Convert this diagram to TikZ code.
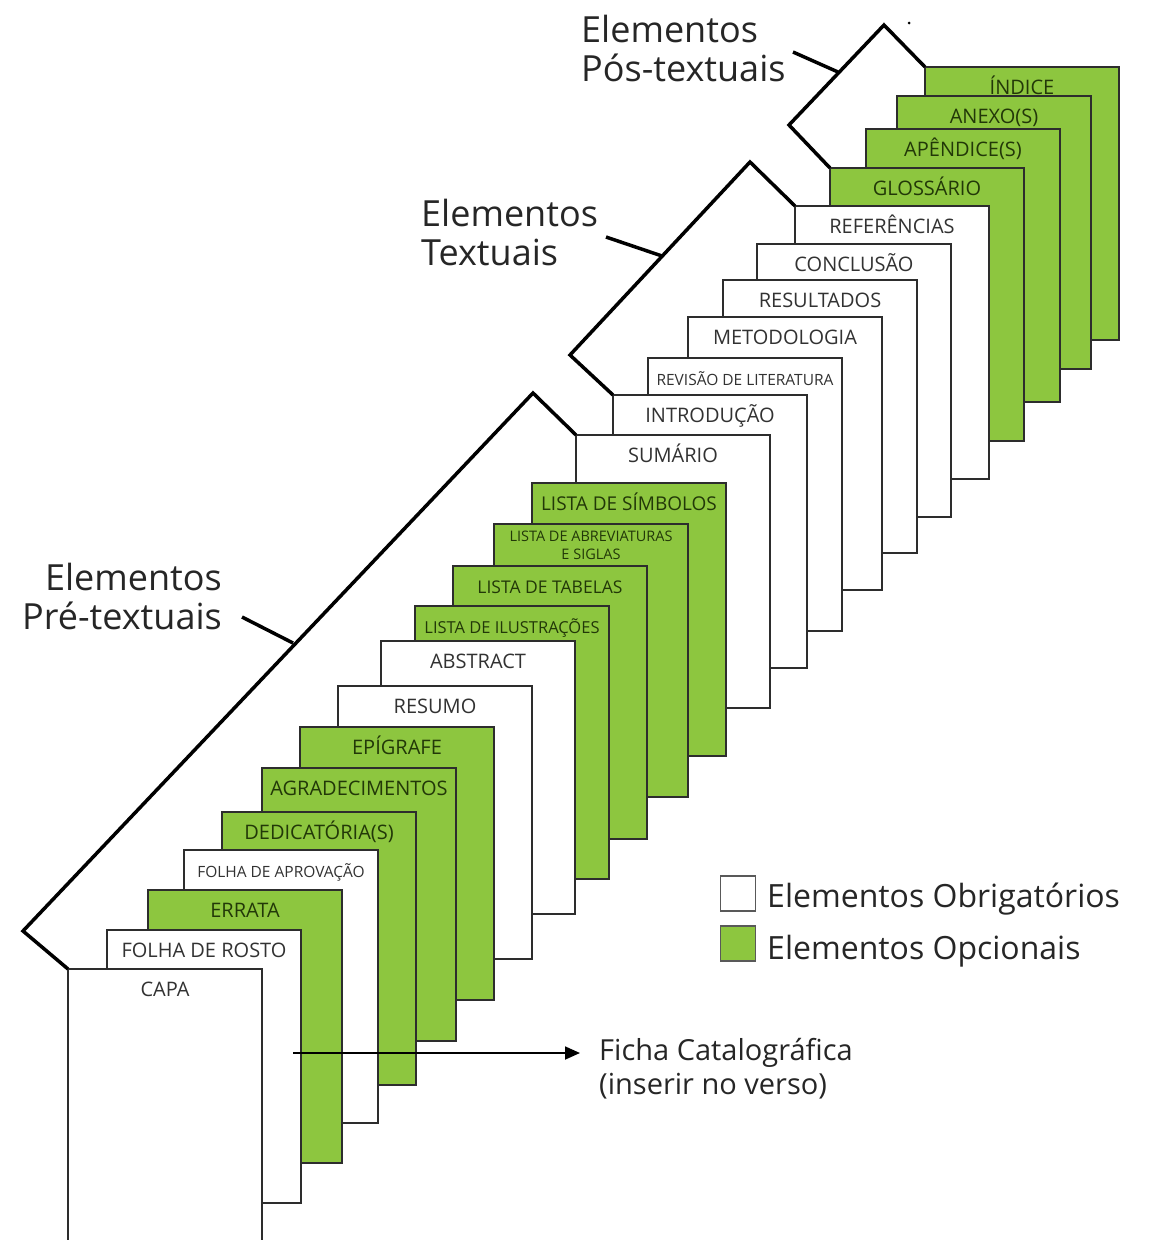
\documentclass[tikz,border=0pt]{standalone}
\usepackage{fontspec}
\setmainfont{Open Sans}
\usetikzlibrary{arrows.meta}

\definecolor{verdeopc}{RGB}{141,198,63}
\definecolor{bordafolha}{RGB}{45,45,45}
\definecolor{textobranco}{RGB}{50,50,50}
\definecolor{textoverde}{RGB}{34,56,8}

\tikzset{
    folha/.style={draw=bordafolha, line width=1.6pt, anchor=north west, inner sep=0pt, outer sep=0pt, minimum width=194pt, minimum height=273pt},
    obrig/.style={folha, fill=white},
    opc/.style={folha, fill=verdeopc},
    rot/.style={anchor=base, inner sep=0pt, font=\fontsize{20}{22}\selectfont},
    rb/.style={rot, text=textobranco},
    rv/.style={rot, text=textoverde},
    rbp/.style={rb, font=\fontsize{15.5}{18}\selectfont},
    rvp/.style={rv, font=\fontsize{16.5}{18}\selectfont},
    rvt/.style={rv, font=\fontsize{17.5}{20}\selectfont},
    rvs/.style={rv, font=\fontsize{19}{22}\selectfont},
    rvd/.style={rv, font=\fontsize{14.5}{18}\selectfont, align=center, yshift=-8pt},
    chave/.style={line width=3.5pt, black},
    grupo/.style={inner sep=0pt, font=\fontsize{36}{39}\selectfont, text=black!85},
    legenda/.style={draw=black!65, line width=1.4pt, minimum size=35pt, inner sep=0pt},
    legtexto/.style={anchor=base west, inner sep=0pt, font=\fontsize{32}{34}\selectfont, text=black!85},
    seta/.style={line width=1.8pt, -{Triangle[length=15pt,width=13pt]}}
}

\begin{document}
\begin{tikzpicture}[x=1pt, y=-1pt]
    \useasboundingbox (0,0) rectangle (1150,1240);
    \clip (0,0) rectangle (1150,1240);

    % folhas, da ultima (atras) para a capa (frente)
    \foreach \px/\py/\tipo/\rs/\txt [count=\i] in {
        925/67/opc/rv/ÍNDICE,
        897/96/opc/rv/ANEXO(S),
        866/129/opc/rv/APÊNDICE(S),
        830/168/opc/rv/GLOSSÁRIO,
        795/206/obrig/rb/REFERÊNCIAS,
        757/244/obrig/rb/CONCLUSÃO,
        723/280/obrig/rb/RESULTADOS,
        688/317/obrig/rb/METODOLOGIA,
        648/358/obrig/rbp/REVISÃO DE LITERATURA,
        613/395/obrig/rb/INTRODUÇÃO,
        576/435/obrig/rb/SUMÁRIO,
        532/483/opc/rvs/LISTA DE SÍMBOLOS,
        494/524/opc/rvd/LISTA DE ABREVIATURAS\\E SIGLAS,
        453/566/opc/rvt/LISTA DE TABELAS,
        415/606/opc/rvp/LISTA DE ILUSTRAÇÕES,
        381/641/obrig/rb/ABSTRACT,
        338/686/obrig/rb/RESUMO,
        300/727/opc/rv/EPÍGRAFE,
        262/768/opc/rv/AGRADECIMENTOS,
        222/812/opc/rv/DEDICATÓRIA(S),
        184/850/obrig/rbp/FOLHA DE APROVAÇÃO,
        148/890/opc/rv/ERRATA,
        107/930/obrig/rb/FOLHA DE ROSTO,
        68/969/obrig/rb/CAPA}{
        \node[\tipo] (f\i) at (\px,\py) {};
        \node[\rs] (r\i) at ([yshift=-27pt]f\i.north) {\txt};
    }

    % chaves dos grupos
    \coordinate (pretip) at (23,931);
    \coordinate (pretopo) at (533,393);
    \coordinate (textip) at (570,355);
    \coordinate (textopo) at (750,162);
    \coordinate (postip) at (789,125);
    \coordinate (postopo) at (884,25);
    \draw[chave] (f24.north west) -- (pretip) -- (pretopo) -- (f11.north west);
    \draw[chave] (f10.north west) -- (textip) -- (textopo) -- (f5.north west);
    \draw[chave] (f4.north west) -- (postip) -- (postopo) -- (f1.north west);
    \fill (909,23) circle (1.5pt);

    % nomes dos grupos
    \node[grupo, align=right, anchor=base east] (gpre) at (222,629) {Elementos\\Pré-textuais};
    \node[grupo, align=left, anchor=base west] (gtex) at (421,265) {Elementos\\Textuais};
    \node[grupo, align=left, anchor=base west] (gpos) at (581,81) {Elementos\\Pós-textuais};
    \coordinate (preA) at (242,617);
    \coordinate (preB) at (293,643);
    \coordinate (texA) at (606,237);
    \coordinate (texB) at (662,256);
    \coordinate (posA) at (793,52);
    \coordinate (posB) at (838,72);
    \draw[chave] (preA) -- (preB);
    \draw[chave] (texA) -- (texB);
    \draw[chave] (posA) -- (posB);

    % legenda
    \node[legenda, fill=white] (lobr) at (738,893.5) {};
    \node[legenda, fill=verdeopc] (lopc) at (738,943.5) {};
    \node[legtexto] (tobr) at (767,907) {Elementos Obrigatórios};
    \node[legtexto] (topc) at (767,959) {Elementos Opcionais};

    % ficha catalografica
    \coordinate (fichaini) at (293,1053);
    \node[legtexto, align=left, font=\fontsize{29}{34}\selectfont] (ficha) at (599,1094) {Ficha Catalográfica\\(inserir no verso)};
    \draw[seta] (fichaini) -- ([xshift=-19pt]ficha.west |- fichaini);
\end{tikzpicture}
\end{document}
